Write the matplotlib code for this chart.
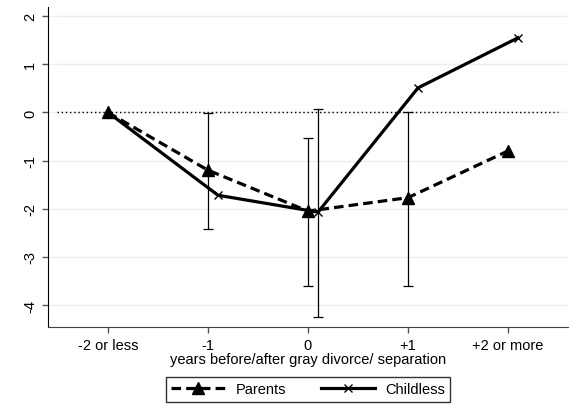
import numpy as np
import matplotlib.pyplot as plt

plt.rcParams['font.family'] = ['Liberation Sans', 'DejaVu Sans']

# categories on the x axis
periods = ["-2 or less", "-1", "0", "+1", "+2 or more"]

# estimated effects
parents = [0.0, -1.2, -2.05, -1.77, -0.8]
childless = [0.0, -1.72, -2.07, 0.51, 1.55]
childless_shift = [0.0, 0.1, 0.1, 0.1, 0.1]

# confidence intervals that are drawn (index into periods)
parents_ci_idx = [1, 2, 3]
parents_ci_low = [-2.43, -3.6, -3.6]
parents_ci_high = [-0.02, -0.54, 0.0]
childless_ci_idx = [2]
childless_ci_low = [-4.25]
childless_ci_high = [0.08]

x = np.arange(len(periods))
x_child = x + np.array(childless_shift)

fig = plt.figure(figsize=(5.71, 4.06), dpi=100)
ax = fig.add_axes([48 / 571, (406 - 327.7) / 406, 520 / 571, 319.7 / 406])

# grid lines and zero reference line
for yv in range(-4, 3):
    ax.axhline(yv, color="#e9eff1", lw=1.0, zorder=0)
ax.axhline(0, xmin=0.017, xmax=0.98, color="black", lw=1.0, ls=(0, (1, 2)), zorder=1)

# error bars
p_mid = np.array(parents)[parents_ci_idx]
ax.errorbar(x[parents_ci_idx], p_mid,
            yerr=[p_mid - np.array(parents_ci_low), np.array(parents_ci_high) - p_mid],
            fmt="none", ecolor="black", elinewidth=0.9, capsize=3.5, capthick=0.9, zorder=2)
c_mid = np.array(childless)[childless_ci_idx]
ax.errorbar(x_child[childless_ci_idx], c_mid,
            yerr=[c_mid - np.array(childless_ci_low), np.array(childless_ci_high) - c_mid],
            fmt="none", ecolor="black", elinewidth=0.9, capsize=3.5, capthick=0.9, zorder=2)

# lines (first childless marker sits under the parents triangle)
ax.plot(x, parents, color="black", lw=2.3, ls=(0, (3, 1.6)), marker="^",
        markersize=8.5, label="Parents", zorder=4)
ax.plot(x_child, childless, color="black", lw=2.3, ls="-", marker="x",
        markersize=6, markeredgewidth=1.0, markevery=[1, 2, 3, 4],
        label="Childless", zorder=3)

ax.set_xlim(-0.6, 4.6)
ax.set_ylim(-4.45, 2.19)
ax.set_xticks(x)
ax.set_xticklabels(periods, fontsize=10.5)
ax.set_yticks(range(-4, 3))
ax.set_yticklabels([str(v) for v in range(-4, 3)], fontsize=10.5,
                   rotation=90, va="center")
ax.tick_params(axis="x", length=4, width=1, color="#555555", pad=4)
ax.tick_params(axis="y", length=4, width=1, color="#555555", pad=4)
ax.set_xlabel("years before/after gray divorce/ separation", fontsize=10.5, labelpad=0)

ax.spines["top"].set_visible(False)
ax.spines["right"].set_visible(False)
ax.spines["left"].set_color("black")
ax.spines["bottom"].set_color("#404040")

leg = fig.legend(loc="center", bbox_to_anchor=(308 / 571, (406 - 390.5) / 406),
                 ncol=2, fontsize=10.5, frameon=True, fancybox=False,
                 edgecolor="black", handlelength=3.7, columnspacing=2.4,
                 borderpad=0.35, handletextpad=0.7)
leg.get_frame().set_linewidth(1.0)

fig.savefig("out.png", dpi=100)
